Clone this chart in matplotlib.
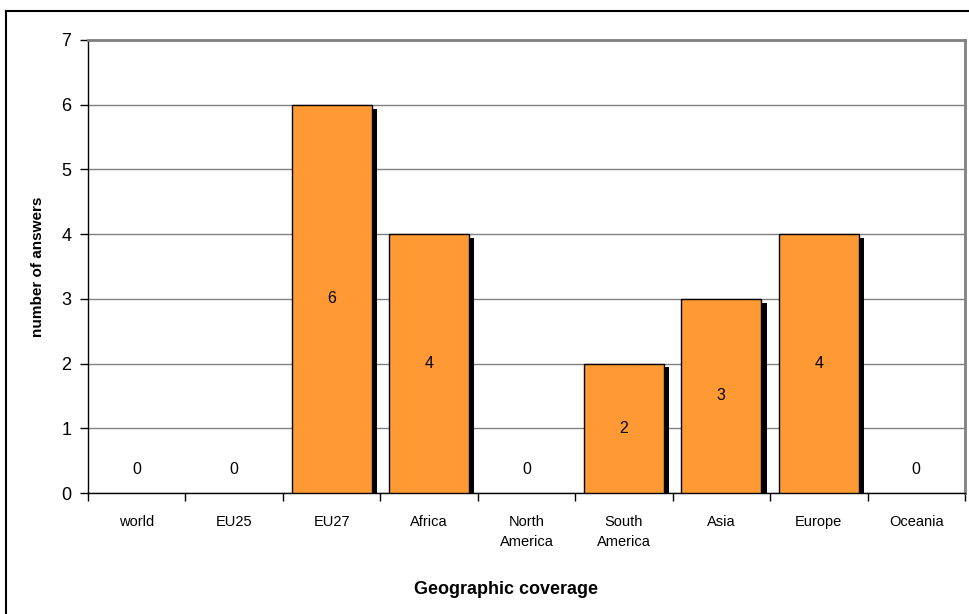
import numpy as np
import matplotlib
matplotlib.use("Agg")
import matplotlib.pyplot as plt
from matplotlib.lines import Line2D

plt.rcParams['font.family'] = ['Liberation Sans', 'DejaVu Sans']

regions = ['world', 'EU25', 'EU27', 'Africa', 'North\nAmerica', 'South\nAmerica',
           'Asia', 'Europe', 'Oceania']
answers = [0, 0, 6, 4, 0, 2, 3, 4, 0]
y_ticks = [0, 1, 2, 3, 4, 5, 6, 7]

fig = plt.figure(figsize=(9.69, 6.14), dpi=100)
ax = fig.add_axes([88/969, (614-493)/614, (965-88)/969, (493-40)/614])

x = np.arange(len(regions))
vals = np.array(answers)
w = 0.82
has = vals > 0

# shadow behind the bars
ax.bar(x[has] + 0.055, vals[has] - 0.06, w, color='black', zorder=2)
ax.bar(x[has], vals[has], w, color='#FF9933', edgecolor='black', linewidth=1, zorder=3)

for xi, v in zip(x, vals):
    ypos = v / 2 if v > 0 else 0.36
    ax.text(xi, ypos, str(v), ha='center', va='center', fontsize=11.5, zorder=4)

ax.set_xlim(-0.5, len(regions) - 0.5)
ax.set_ylim(0, 7)
ax.set_yticks(y_ticks)
ax.tick_params(axis='y', labelsize=13, length=6, width=1, direction='out', pad=6)
ax.set_xticks(x)
ax.set_xticklabels(regions, fontsize=10.5, linespacing=1.55)
ax.tick_params(axis='x', length=0, pad=16)
ax.set_xticks(np.arange(-0.5, len(regions), 1), minor=True)
ax.tick_params(axis='x', which='minor', length=6, width=1, direction='out')

ax.yaxis.grid(True, color='#808080', linewidth=1)
ax.set_axisbelow(True)
for s in ['top', 'right']:
    ax.spines[s].set_color('#808080')
    ax.spines[s].set_linewidth(2)
for s in ['left', 'bottom']:
    ax.spines[s].set_color('black')
    ax.spines[s].set_linewidth(1)

ax.set_ylabel('number of answers', fontsize=11, fontweight='bold', labelpad=12)
fig.text(506/969, 1 - 590/614, 'Geographic coverage', fontsize=13, fontweight='bold',
         ha='center', va='center')

# outer chart border (left and top visible)
fig.add_artist(Line2D([6/969, 6/969], [0, 1 - 11/614], transform=fig.transFigure,
                      color='black', linewidth=1.5))
fig.add_artist(Line2D([6/969, 1], [1 - 11/614, 1 - 11/614], transform=fig.transFigure,
                      color='black', linewidth=1.5))

fig.savefig('out.png', dpi=100)
